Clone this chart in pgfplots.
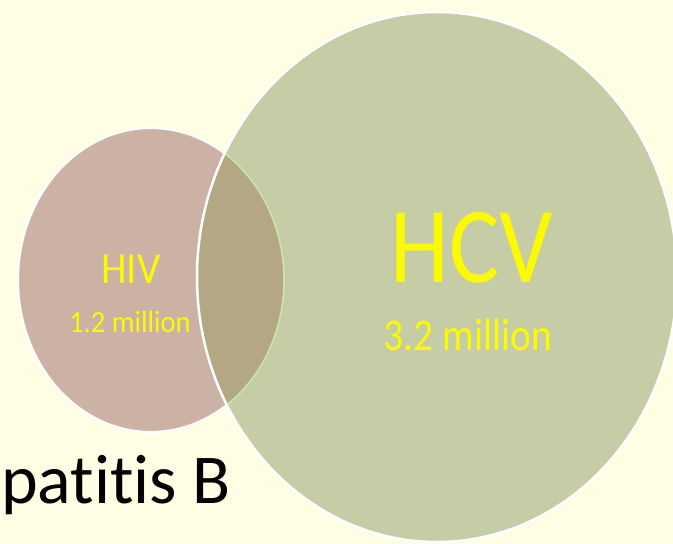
\documentclass[border=0pt]{standalone}
\usepackage{pgfplots}
\pgfplotsset{compat=1.18}
\usepackage{fontspec}
\setmainfont{Carlito}[Ligatures={NoCommon,NoContextual}]
\definecolor{bgc}{RGB}{255,253,228}
\definecolor{hivc}{RGB}{204,178,164}
\definecolor{hcvc}{RGB}{198,204,165}
\definecolor{ovc}{RGB}{179,168,131}
\definecolor{ovline}{RGB}{205,227,168}
\definecolor{ylw}{RGB}{250,250,0}
\begin{document}
\begin{tikzpicture}
\begin{axis}[
  width=673pt, height=544pt, scale only axis,
  xmin=0, xmax=673, ymin=0, ymax=544, y dir=reverse,
  hide axis, clip=true,
  axis background/.style={fill=bgc},
]
% HIV circle: centre (151,280), radii 133 x 152
\fill[hivc] (axis cs:151,280) ellipse [x radius=133, y radius=152];
\draw[white, line width=2.2pt] (axis cs:151,280) ellipse [x radius=133, y radius=152];
% HCV circle: centre (437,277), radii 240 x 265
\fill[hcvc] (axis cs:437,277) ellipse [x radius=240, y radius=265];
\begin{scope}
  \clip (axis cs:437,277) ellipse [x radius=240, y radius=265];
  \fill[ovc] (axis cs:151,280) ellipse [x radius=133, y radius=152];
  \draw[ovline, line width=1.6pt] (axis cs:151,280) ellipse [x radius=133, y radius=152];
\end{scope}
\draw[white, line width=2.5pt] (axis cs:437,277) ellipse [x radius=240, y radius=265];
% labels
\node[text=ylw, inner sep=0pt, anchor=base, font=\fontsize{41}{41}\selectfont, yscale=1.08] at (axis cs:131,283) {HIV};
\node[text=ylw, inner sep=0pt, anchor=base, font=\fontsize{28.5}{28.5}\selectfont, yscale=1.08] at (axis cs:130,332) {1.2 million};
\node[text=ylw, inner sep=0pt, anchor=base, font=\fontsize{94}{94}\selectfont, yscale=1.15] at (axis cs:472,282) {HCV};
\node[text=ylw, inner sep=0pt, anchor=base, font=\fontsize{39.5}{39.5}\selectfont, yscale=1.15] at (axis cs:468,350) {3.2 million};
\node[text=black, inner sep=0pt, anchor=base west, font=\fontsize{70}{70}\selectfont] at (axis cs:1,503) {\llap{He}pat\kern0pt it\kern0pt is B};
\end{axis}
\pgfresetboundingbox
\useasboundingbox (current axis.south west) rectangle (current axis.north east);
\end{tikzpicture}
\end{document}
